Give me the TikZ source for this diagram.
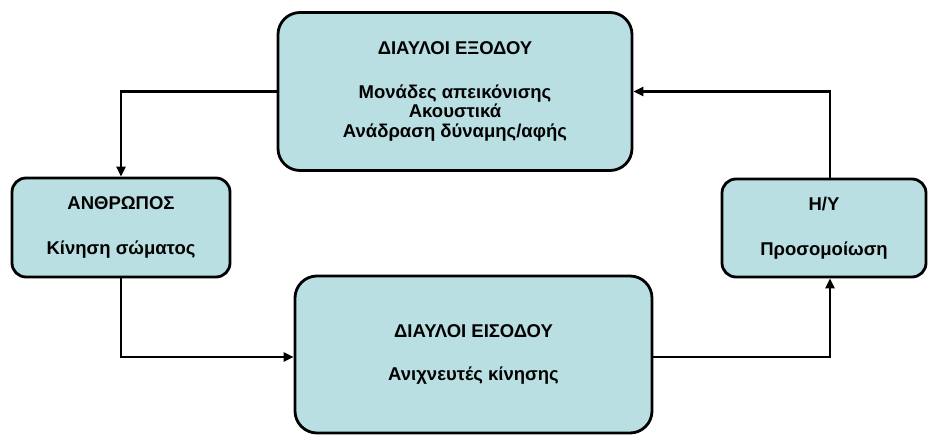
\documentclass[tikz,border=0pt]{standalone}
\usepackage{fontspec}
\setmainfont{Liberation Sans}
\usetikzlibrary{arrows.meta}
\definecolor{boxfill}{RGB}{185,223,226}
\begin{document}
\begin{tikzpicture}[x=1pt,y=-1pt,
  box/.style={draw=black, line width=2.8pt, fill=boxfill, rectangle, inner sep=0pt,
    align=center, font=\fontsize{18.5}{19.8}\selectfont\bfseries},
  conn/.style={draw=black, line width=2.8pt, -{Triangle[length=10pt,width=9pt]}}]
\useasboundingbox (0,0) rectangle (928,435);
\node[box, minimum width=354pt, minimum height=158pt, rounded corners=22pt] (top) at (455,91.5)
  {ΔΙΑΥΛΟΙ ΕΞΟΔΟΥ\\[24pt]Μονάδες απεικόνισης\\Ακουστικά\\Ανάδραση δύναμης/αφής};
\node[box, minimum width=218pt, minimum height=99pt, rounded corners=14pt] (human) at (121,227.5)
  {ΑΝΘΡΩΠΟΣ\\[25pt]Κίνηση σώματος};
\node[box, minimum width=357pt, minimum height=157pt, rounded corners=22pt] (bot) at (473.5,354.5)
  {ΔΙΑΥΛΟΙ ΕΙΣΟΔΟΥ\\[24pt]Ανιχνευτές κίνησης};
\node[box, minimum width=204pt, minimum height=98pt, rounded corners=14pt] (pc) at (824,228)
  {Η/Υ\\[25pt]Προσομοίωση};
\coordinate (pcs) at ([xshift=6pt]pc.south);
\coordinate (pcn) at ([xshift=6pt]pc.north);
\coordinate (botw) at ([yshift=-2.5pt]bot.west);
\coordinate (bote) at ([yshift=-2.5pt]bot.east);
\draw[conn] (top.west) -| (human.north);
\draw[conn] (human.south) |- (botw);
\draw[conn] (bote) -| (pcs);
\draw[conn] (pcn) |- (top.east);
\end{tikzpicture}
\end{document}
